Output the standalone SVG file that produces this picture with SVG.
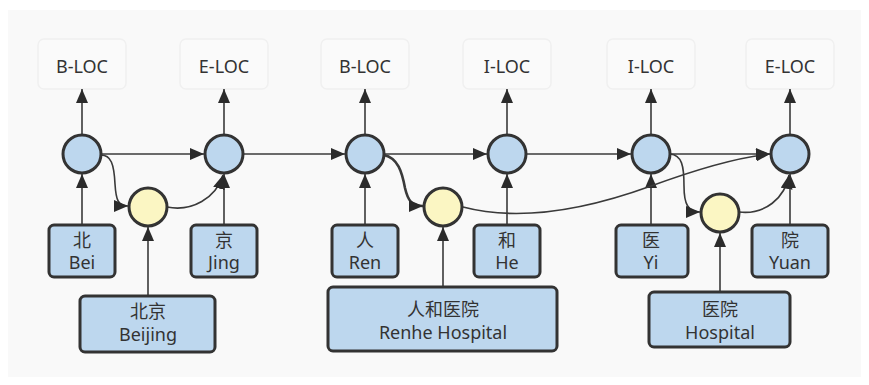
<svg xmlns="http://www.w3.org/2000/svg" width="869" height="385" viewBox="0 0 869 385">
<defs>
<marker id="ah" viewBox="0 0 14 12" refX="14" refY="6" markerWidth="14" markerHeight="12" markerUnits="userSpaceOnUse" orient="auto">
<path d="M0,0 L14,6 L0,12 z" fill="#2b2b2b"/>
</marker>
<style>
.lbl rect{fill:#fafafa;stroke:#f0f0f0;stroke-width:1.5}
.t{font-family:"Noto Sans","Noto Sans CJK SC",sans-serif;font-size:18px;fill:#333;text-anchor:middle}
.h circle{fill:#bdd7ee;stroke:#333;stroke-width:3}
.y circle{fill:#fbf6c3;stroke:#333;stroke-width:3}
.tok rect{fill:#bdd7ee;stroke:#333;stroke-width:3}
#edges path{fill:none;stroke:#3a3a3a;stroke-width:1.6;marker-end:url(#ah)}
</style>
</defs>
<rect width="869" height="385" fill="#ffffff"/>
<rect x="8" y="10" width="853" height="367" fill="#f9f9f9"/>

<g id="labels">
<g id="lbl1" class="lbl"><rect x="38" y="39" width="88" height="50" rx="6"/><text class="t" x="82" y="73">B-LOC</text></g>
<g id="lbl2" class="lbl"><rect x="180" y="39" width="88" height="50" rx="6"/><text class="t" x="224" y="73">E-LOC</text></g>
<g id="lbl3" class="lbl"><rect x="321" y="39" width="88" height="50" rx="6"/><text class="t" x="365" y="73">B-LOC</text></g>
<g id="lbl4" class="lbl"><rect x="463" y="39" width="88" height="50" rx="6"/><text class="t" x="507" y="73">I-LOC</text></g>
<g id="lbl5" class="lbl"><rect x="607" y="39" width="88" height="50" rx="6"/><text class="t" x="651" y="73">I-LOC</text></g>
<g id="lbl6" class="lbl"><rect x="746" y="39" width="88" height="50" rx="6"/><text class="t" x="790" y="73">E-LOC</text></g>
</g>

<g id="edges">
<path d="M82,134 V89"/>
<path d="M224,134 V89"/>
<path d="M365,134 V89"/>
<path d="M507,134 V89"/>
<path d="M651,134 V89"/>
<path d="M790,134 V89"/>
<path d="M101,154 H204"/>
<path d="M243,154 H345"/>
<path d="M384,154 H487"/>
<path d="M526,154 H631"/>
<path d="M670,154 H770"/>
<path d="M82,225 V174"/>
<path d="M224,225 V174"/>
<path d="M365,225 V174"/>
<path d="M507,225 V174"/>
<path d="M651,225 V174"/>
<path d="M790,225 V174"/>
<path d="M148,296 V227"/>
<path d="M443,287 V227"/>
<path d="M720,292 V233"/>
<path d="M101,155 C111,155 114,164 115,184 C116,200 118,206 128,206"/>
<path d="M167,207 C192,212 216,198 223,175"/>
<path d="M384,155 C398,158 402,172 405,188 C408,201 412,206 423,206" style="stroke-width:2.6"/>
<path d="M463,207 C520,222 585,210 651,186 C700,168 740,157 770,154"/>
<path d="M670,154 C682,155 684,166 684,186 C684,204 688,212 700,212"/>
<path d="M739,212 C765,215 785,198 789,175"/>
</g>

<g id="hidden">
<g id="h1" class="h"><circle cx="82" cy="154" r="19"/></g>
<g id="h2" class="h"><circle cx="224" cy="154" r="19"/></g>
<g id="h3" class="h"><circle cx="365" cy="154" r="19"/></g>
<g id="h4" class="h"><circle cx="507" cy="154" r="19"/></g>
<g id="h5" class="h"><circle cx="651" cy="154" r="19"/></g>
<g id="h6" class="h"><circle cx="790" cy="154" r="19"/></g>
<g id="y1" class="y"><circle cx="148" cy="207" r="19"/></g>
<g id="y2" class="y"><circle cx="443" cy="207" r="19"/></g>
<g id="y3" class="y"><circle cx="720" cy="213" r="19"/></g>
</g>

<g id="tokens">
<g id="bei" class="tok"><rect x="49" y="225" width="66" height="52" rx="5"/><text class="t" x="82" y="247">北</text><text class="t" x="82" y="269">Bei</text></g>
<g id="jing" class="tok"><rect x="191" y="225" width="66" height="52" rx="5"/><text class="t" x="224" y="247">京</text><text class="t" x="224" y="269">Jing</text></g>
<g id="ren" class="tok"><rect x="332" y="225" width="66" height="52" rx="5"/><text class="t" x="365" y="247">人</text><text class="t" x="365" y="269">Ren</text></g>
<g id="he" class="tok"><rect x="474" y="225" width="66" height="52" rx="5"/><text class="t" x="507" y="247">和</text><text class="t" x="507" y="269">He</text></g>
<g id="yi" class="tok"><rect x="616" y="225" width="72" height="52" rx="5"/><text class="t" x="651" y="247">医</text><text class="t" x="651" y="269">Yi</text></g>
<g id="yuan" class="tok"><rect x="752" y="225" width="76" height="52" rx="5"/><text class="t" x="790" y="247">院</text><text class="t" x="790" y="269">Yuan</text></g>
<g id="beijing" class="tok"><rect x="80" y="296" width="135" height="56" rx="5"/><text class="t" x="148" y="318">北京</text><text class="t" x="148" y="341">Beijing</text></g>
<g id="renhe" class="tok"><rect x="328" y="287" width="229" height="64" rx="5"/><text class="t" x="443" y="316">人和医院</text><text class="t" x="443" y="339">Renhe Hospital</text></g>
<g id="hospital" class="tok"><rect x="649" y="292" width="141" height="55" rx="5"/><text class="t" x="720" y="316">医院</text><text class="t" x="720" y="339">Hospital</text></g>
</g>
</svg>
